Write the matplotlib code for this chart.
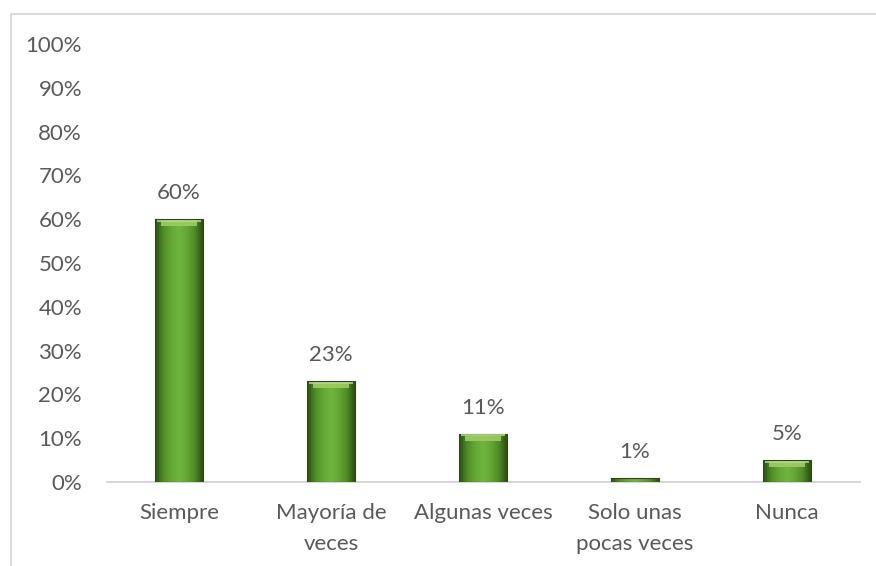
import matplotlib
matplotlib.use("Agg")
import matplotlib.pyplot as plt
import numpy as np
from matplotlib.patches import Rectangle
from matplotlib.colors import LinearSegmentedColormap
from matplotlib.ticker import FuncFormatter

categories = ["Siempre", "Mayoría de\nveces", "Algunas veces", "Solo unas\npocas veces", "Nunca"]
values = [60, 23, 11, 1, 5]
yticks = [0, 10, 20, 30, 40, 50, 60, 70, 80, 90, 100]

W, H = 876, 566
fig = plt.figure(figsize=(W / 100, H / 100), dpi=100)
fig.patch.set_facecolor("white")

# chart frame (top and left edges visible)
fig.patches.append(Rectangle((11 / W, -0.05), 1.2, (H - 14) / H + 0.05,
                             transform=fig.transFigure, fill=False,
                             edgecolor="#d4d4d4", linewidth=1.2))

ax = fig.add_axes([107 / W, (H - 482) / H, (860 - 107) / W, (482 - 44) / H])
x = list(range(len(categories)))

font = "Lato"
text_color = "#595959"
fs = 16

# bars with a horizontal bevel gradient (dark edges, bright centre)
bw = 0.31
bars = ax.bar(x, values, width=bw, color="none", edgecolor="#2a4a12",
              linewidth=0.8, zorder=4)
bevel = LinearSegmentedColormap.from_list(
    "bevel", ["#2b5014", "#508c27", "#64a736", "#6eb53e", "#64a736", "#508c27", "#2b5014"])
grad = np.linspace(0, 1, 64).reshape(1, -1)
for b in bars:
    x0, w, h = b.get_x(), b.get_width(), b.get_height()
    im = ax.imshow(grad, cmap=bevel, aspect="auto", extent=(x0, x0 + w, 0, h),
                   interpolation="bicubic", zorder=3)
    im.set_clip_path(b)
    if h >= 3:
        # lighter top bevel
        ax.add_patch(Rectangle((x0 + w * 0.12, h - 1.6), w * 0.76, 1.1,
                               facecolor="#9ccd63", edgecolor="none", zorder=5, alpha=0.9))
        ax.add_patch(Rectangle((x0 + w * 0.04, h - 0.55), w * 0.92, 0.45,
                               facecolor="#b6dc86", edgecolor="none", zorder=5, alpha=0.8))
ax.set_xlim(-0.474, 4.48)
ax.set_ylim(0, 100)

for xi, v in zip(x, values):
    ax.text(xi, v + 3.6, f"{v}%", ha="center", va="bottom", fontsize=fs,
            color=text_color, family=font, zorder=6)

ax.set_yticks(yticks)
ax.yaxis.set_major_formatter(FuncFormatter(lambda v, p: f"{int(v)}%"))
ax.set_xticks(x)
ax.set_xticklabels(categories, fontsize=fs, color=text_color, family=font, linespacing=1.7)
for lab in ax.get_yticklabels():
    lab.set_family(font)
    lab.set_fontsize(fs)
    lab.set_color(text_color)
ax.tick_params(axis="both", length=0)
ax.tick_params(axis="y", pad=18)
ax.tick_params(axis="x", pad=15)

for s in ["top", "right", "left"]:
    ax.spines[s].set_visible(False)
ax.spines["bottom"].set_color("#d0d0d0")
ax.spines["bottom"].set_linewidth(1.2)
ax.spines["bottom"].set_zorder(2)

fig.savefig("out.png", dpi=100, facecolor="white")
